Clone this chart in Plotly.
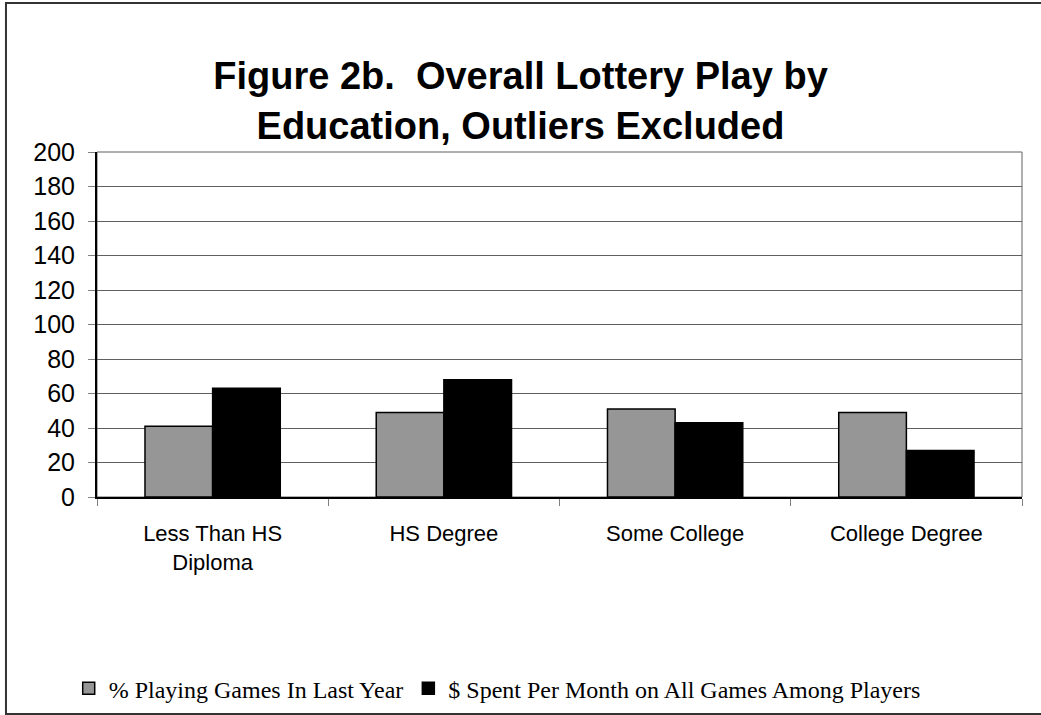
import plotly.graph_objects as go

categories = ["Less Than HS<br>Diploma", "HS Degree", "Some College", "College Degree"]
pct_playing = [41, 49, 51, 49]
dollars_spent = [63, 68, 43, 27]
series_names = ["% Playing Games In Last Year", "$ Spent Per Month on All Games Among Players"]
y_ticks = list(range(0, 201, 20))

fig = go.Figure()
fig.add_trace(go.Bar(
    x=categories, y=pct_playing, name=series_names[0],
    marker=dict(color="#969696", line=dict(color="#000000", width=1.5)),
))
fig.add_trace(go.Bar(
    x=categories, y=dollars_spent, name=series_names[1],
    marker=dict(color="#000000", line=dict(color="#000000", width=1.5)),
))

fig.update_layout(
    width=1041, height=715,
    margin=dict(l=97, r=19, t=152, b=218, autoexpand=False),
    paper_bgcolor="white", plot_bgcolor="white",
    barmode="group", bargap=0.415, bargroupgap=0,
    title=dict(
        text="<b>Figure 2b.  Overall Lottery Play by<br>Education, Outliers Excluded</b>",
        x=0.5, xref="container", xanchor="center",
        y=0.875, yref="container", yanchor="middle",
        font=dict(family="Liberation Sans, Arial", size=38, color="black"),
    ),
    font=dict(family="Liberation Sans, Arial", color="black"),
    legend=dict(
        orientation="h", x=0.066, xref="container", xanchor="left",
        y=0.037, yref="container", yanchor="middle",
        font=dict(family="Liberation Serif, Times New Roman", size=24, color="black"),
        itemwidth=30, traceorder="normal",
    ),
    xaxis=dict(
        showline=True, linecolor="black", linewidth=2,
        ticks="outside", tickson="boundaries", ticklen=7, tickcolor="#808080",
        tickfont=dict(size=22), ticklabelstandoff=16, showgrid=False,
    ),
    yaxis=dict(
        range=[0, 200], tickvals=y_ticks,
        showline=True, linecolor="black", linewidth=2,
        ticks="outside", ticklen=7, tickcolor="#808080",
        tickfont=dict(size=25), ticklabelstandoff=8,
        showgrid=True, gridcolor="#606060", gridwidth=1, zeroline=False,
    ),
    shapes=[
        dict(type="rect", xref="paper", yref="paper", x0=0, x1=1, y0=0, y1=1,
             line=dict(color="#606060", width=1), layer="below"),
        dict(type="rect", xref="paper", yref="paper", x0=-0.0984, x1=1.03, y0=-0.629, y1=1.432,
             line=dict(color="#333333", width=2)),
    ],
)

fig.write_html("out.html", config={"displayModeBar": False},
               post_script="document.body.style.margin='0';")
